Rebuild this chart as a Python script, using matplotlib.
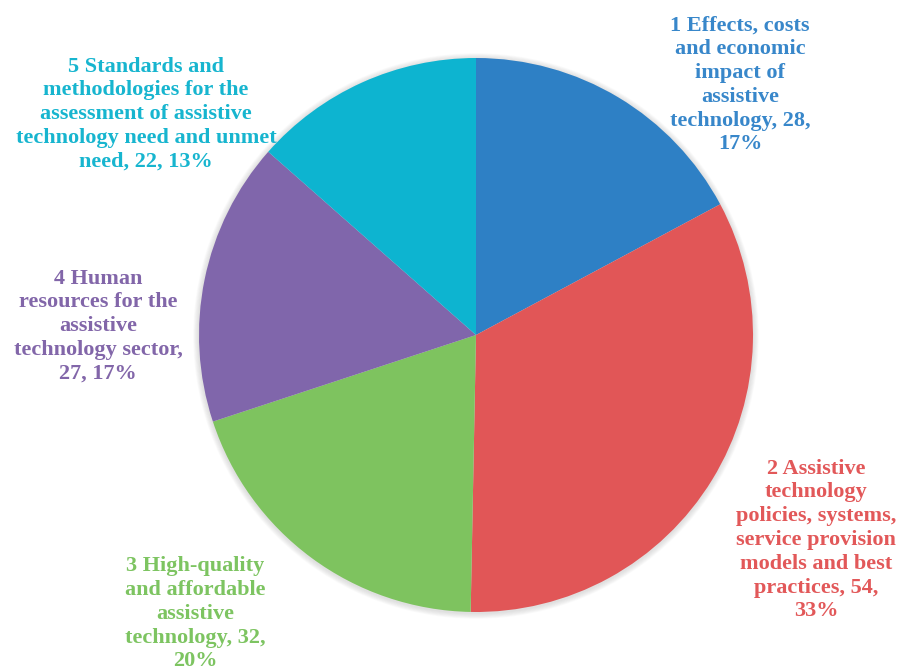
import matplotlib
matplotlib.use("Agg")
import matplotlib.pyplot as plt
from matplotlib.patches import Circle

W, H = 904, 672

labels = [
    "1 Effects, costs\nand economic\nimpact of\nassistive\ntechnology, 28,\n17%",
    "2 Assistive\ntechnology\npolicies, systems,\nservice provision\nmodels and best\npractices, 54,\n33%",
    "3 High-quality\nand affordable\nassistive\ntechnology, 32,\n20%",
    "4 Human\nresources for the\nassistive\ntechnology sector,\n27, 17%",
    "5 Standards and\nmethodologies for the\nassessment of assistive\ntechnology need and unmet\nneed, 22, 13%",
]
values = [28, 54, 32, 27, 22]
wedge_colors = ["#2E80C5", "#E15657", "#7EC35F", "#8066AB", "#0DB4D0"]
text_colors = ["#3887CA", "#E25859", "#7DC461", "#8266A9", "#17B5CF"]


def main():
    fig = plt.figure(figsize=(W / 100, H / 100), dpi=100)
    ax = fig.add_axes([0, 0, 1, 1])

    cx, cy, r = 476, H - 335, 277

    # soft shadow behind the pie
    for i in range(7):
        ax.add_patch(Circle((cx, cy - 1), r + 1 + i * 0.8, color="#808080",
                            alpha=0.035, lw=0, zorder=0.2))

    ax.pie(values, colors=wedge_colors, startangle=90, counterclock=False,
           center=(cx, cy), radius=r, wedgeprops={"linewidth": 0, "zorder": 1})

    # label centres in pixels (from top-left)
    label_pos = [(740, 85), (816, 540), (195, 614), (98, 326), (146, 114)]
    for text, (x, y), c in zip(labels, label_pos, text_colors):
        ax.text(x, H - y, text, ha="center", va="center", color=c,
                fontsize=16, fontweight="bold", family="Liberation Serif",
                linespacing=1.25, multialignment="center", zorder=0.5)

    ax.set_xlim(0, W)
    ax.set_ylim(0, H)
    ax.set_aspect("equal")
    ax.axis("off")
    fig.savefig("out.png", dpi=100, facecolor="white")


if __name__ == "__main__":
    main()
